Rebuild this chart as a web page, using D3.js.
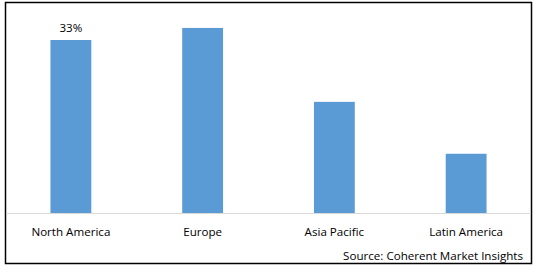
<!DOCTYPE html>
<html><head><meta charset="utf-8">
<script src="https://cdn.jsdelivr.net/npm/d3@7"></script>
<style>html,body{margin:0;padding:0;background:#fff;}svg{display:block;}</style>
</head><body>
<svg id="c" width="538" height="272"></svg>
<script>
const categories = ["North America", "Europe", "Asia Pacific", "Latin America"];
const shares = [33, 35.3, 21.2, 11.3];
const labelText = ["33%", "", "", ""];
const sourceText = "Source: Coherent Market Insights";

const svg = d3.select("#c");
const font = "'Open Sans', sans-serif";
const fs = 11.6;

svg.append("rect").attr("x", 5.5).attr("y", 2.5).attr("width", 526).attr("height", 261)
  .attr("fill", "#fff").attr("stroke", "#000").attr("stroke-width", 1.5);

const x = d3.scaleBand().domain(categories).range([5, 532]).paddingInner(0.69).paddingOuter(0.345);
const y = d3.scaleLinear().domain([0, 40]).range([213, 213 - 40 * 173 / 33]);

svg.append("line").attr("x1", 6).attr("x2", 531).attr("y1", 213.5).attr("y2", 213.5)
  .attr("stroke", "#d9d9d9").attr("stroke-width", 1);

svg.selectAll("rect.bar").data(categories).join("rect").attr("class", "bar")
  .attr("x", d => x(d)).attr("width", x.bandwidth())
  .attr("y", (d, i) => y(shares[i])).attr("height", (d, i) => y(0) - y(shares[i]))
  .attr("fill", "#5b9bd5");

svg.selectAll("text.val").data(categories).join("text").attr("class", "val")
  .attr("x", d => x(d) + x.bandwidth() / 2).attr("y", (d, i) => y(shares[i]) - 8.5)
  .attr("text-anchor", "middle").attr("font-family", font).attr("font-size", fs).attr("fill", "#000")
  .text((d, i) => labelText[i]);

svg.selectAll("text.cat").data(categories).join("text").attr("class", "cat")
  .attr("x", d => x(d) + x.bandwidth() / 2).attr("y", 235.5)
  .attr("text-anchor", "middle").attr("font-family", font).attr("font-size", fs).attr("fill", "#000")
  .text(d => d);

svg.append("text").attr("x", 523).attr("y", 259.5).attr("text-anchor", "end")
  .attr("font-family", font).attr("font-size", fs).attr("fill", "#000").text(sourceText);
</script>
</body></html>
